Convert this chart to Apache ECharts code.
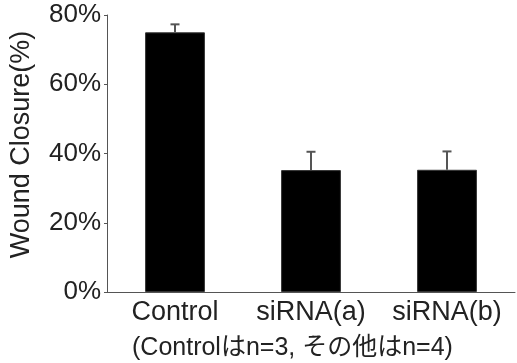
<!DOCTYPE html>
<html>
<head>
<meta charset="utf-8">
<script src="https://cdn.jsdelivr.net/npm/echarts@6/dist/echarts.min.js"></script>
<style>html,body{margin:0;padding:0;background:#fff}#c{width:517px;height:363px}</style>
</head>
<body>
<div id="c"></div>
<script>
const categories = ['Control', 'siRNA(a)', 'siRNA(b)'];
const values = [75.0, 35.2, 35.3];
const errors = [2.3, 5.3, 5.3];
const yTicks = [0, 20, 40, 60, 80];
const yAxisTitle = 'Wound Closure(%)';
const note = '(Controlはn=3, その他はn=4)';

const FONT = '"Liberation Sans", Arial, "Noto Sans CJK JP", sans-serif';
const chart = echarts.init(document.getElementById('c'));
chart.setOption({
  animation: false,
  grid: { left: 107, right: 2, top: 15, bottom: 71 },
  xAxis: {
    type: 'category',
    data: categories,
    axisLine: { lineStyle: { color: '#555', width: 1 } },
    axisTick: { inside: true, length: 3, lineStyle: { color: '#555' } },
    axisLabel: { fontFamily: FONT, fontSize: 27, color: '#222', margin: 7, interval: 0, hideOverlap: false }
  },
  yAxis: {
    type: 'value',
    min: yTicks[0],
    max: yTicks[yTicks.length - 1],
    interval: 20,
    name: yAxisTitle,
    nameLocation: 'middle',
    nameGap: 72,
    nameTextStyle: { fontFamily: FONT, fontSize: 27, color: '#222', padding: [0, 0, 0, 18] },
    axisLine: { show: true, lineStyle: { color: '#555', width: 1 } },
    axisTick: { show: true, length: 3, lineStyle: { color: '#555' } },
    splitLine: { show: false },
    axisLabel: { fontFamily: FONT, fontSize: 26, color: '#222', margin: 6, formatter: '{value}%' }
  },
  graphic: [{
    type: 'text',
    left: 132,
    top: 336,
    style: { text: note, font: '25px ' + FONT, fill: '#222' }
  }],
  series: [{
    type: 'bar',
    data: values,
    barWidth: '44%',
    itemStyle: { color: '#000', borderColor: '#333', borderWidth: 1 },
    z: 2
  }, {
    type: 'custom',
    data: values.map((v, i) => [i, v, errors[i]]),
    z: 3,
    renderItem: function (params, api) {
      const i = api.value(0);
      const base = api.coord([i, api.value(1)]);
      const top = api.coord([i, api.value(1) + api.value(2)]);
      const style = { stroke: '#555', lineWidth: 2 };
      return {
        type: 'group',
        children: [
          { type: 'line', shape: { x1: base[0], y1: base[1], x2: top[0], y2: top[1] }, style: style },
          { type: 'line', shape: { x1: top[0] - 4.5, y1: top[1], x2: top[0] + 4.5, y2: top[1] }, style: style }
        ]
      };
    }
  }]
});
</script>
</body>
</html>
